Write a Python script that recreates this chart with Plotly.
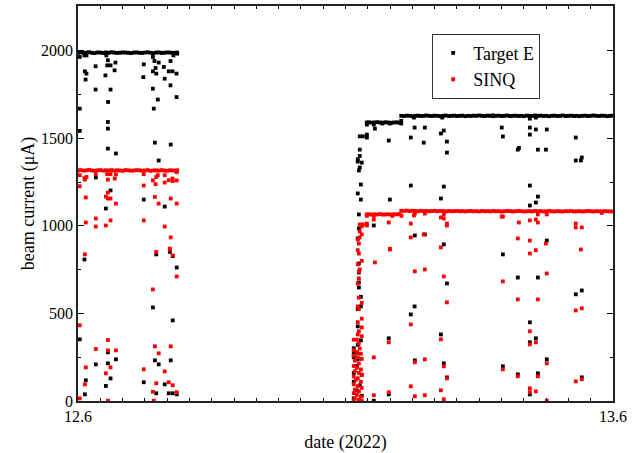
import plotly.graph_objects as go

# ---------------- data (hours after 12.6.2022 00:00, beam current in uA) ----------------
# steady-beam periods: shared time stamps
base1_t = [0.0, 0.125, 0.25, 0.375, 0.5, 0.625, 0.75, 0.875, 1.0, 1.125,
           1.25, 1.375, 1.5, 1.625, 1.75, 1.875, 2.0, 2.125, 2.25, 2.375,
           2.5, 2.625, 2.75, 2.875, 3.0, 3.125, 3.25, 3.375, 3.5, 3.625,
           3.75, 3.875, 4.0, 4.125, 4.25, 4.375, 4.45]
base2a_t = [12.95, 13.05, 13.175, 13.3, 13.425, 13.55, 13.675, 13.8, 13.925, 14.05,
            14.175, 14.3, 14.425]
base2b_t = [14.5, 14.625, 14.75, 14.875, 15.0, 15.125, 15.25, 15.375, 15.5, 15.625,
            15.75, 15.875, 16.0, 16.125, 16.25, 16.375, 16.5, 16.625, 16.75, 16.875,
            17.0, 17.125, 17.25, 17.375, 17.5, 17.625, 17.75, 17.875, 18.0, 18.125,
            18.25, 18.375, 18.5, 18.625, 18.75, 18.875, 19.0, 19.125, 19.25, 19.375,
            19.5, 19.625, 19.75, 19.875, 20.0, 20.125, 20.25, 20.375, 20.5, 20.625,
            20.75, 20.875, 21.0, 21.125, 21.25, 21.375, 21.5, 21.625, 21.75, 21.875,
            22.0, 22.125, 22.25, 22.375, 22.5, 22.625, 22.75, 22.875, 23.0, 23.125,
            23.25, 23.375, 23.5, 23.625, 23.75, 23.875, 24.0]

te_base1 = [1988, 1990, 1987, 1989, 1991, 1988, 1986, 1990, 1989, 1987,
            1990, 1988, 1991, 1989, 1987, 1988, 1990, 1989, 1988, 1986,
            1989, 1990, 1988, 1987, 1989, 1991, 1988, 1986, 1989, 1990,
            1987, 1988, 1990, 1989, 1987, 1988, 1989]
sinq_base1 = [1316, 1318, 1315, 1317, 1319, 1316, 1314, 1317, 1318, 1315,
              1317, 1316, 1318, 1315, 1317, 1316, 1314, 1318, 1317, 1315,
              1316, 1318, 1317, 1315, 1316, 1318, 1314, 1316, 1317, 1315,
              1318, 1316, 1314, 1317, 1316, 1315, 1317]
te_base2a = [1590, 1591, 1589, 1590, 1592, 1590, 1589, 1591, 1590, 1588, 1590, 1591, 1589]
sinq_base2a = [1065, 1066, 1064, 1066, 1065, 1067, 1064, 1065, 1066, 1064, 1066, 1065, 1067]
te_base2b = [1628, 1627, 1629, 1628, 1626, 1628, 1629, 1627, 1628, 1630,
             1628, 1627, 1629, 1628, 1626, 1628, 1630, 1627, 1628, 1629,
             1627, 1628, 1629, 1626, 1628, 1627, 1629, 1628, 1630, 1628,
             1627, 1629, 1628, 1626, 1628, 1629, 1627, 1628, 1630, 1627,
             1628, 1629, 1627, 1628, 1626, 1629, 1628, 1627, 1630, 1628,
             1629, 1627, 1628, 1626, 1628, 1629, 1627, 1628, 1630, 1627,
             1628, 1629, 1627, 1628, 1626, 1628, 1629, 1627, 1628, 1630,
             1628, 1627, 1629, 1628, 1626, 1628, 1629]
sinq_base2b = [1086, 1085, 1087, 1084, 1086, 1085, 1083, 1086, 1084, 1085,
               1083, 1084, 1086, 1083, 1085, 1084, 1082, 1085, 1083, 1084,
               1085, 1083, 1084, 1082, 1084, 1085, 1083, 1084, 1082, 1085,
               1083, 1084, 1082, 1085, 1083, 1084, 1082, 1083, 1085, 1084,
               1082, 1083, 1085, 1084, 1082, 1083, 1084, 1082, 1085, 1083,
               1084, 1082, 1083, 1085, 1083, 1082, 1084, 1083, 1082, 1084,
               1083, 1085, 1082, 1083, 1084, 1082, 1083, 1085, 1083, 1082,
               1084, 1083, 1082, 1084, 1083, 1082, 1083]

# beam trips / ramp-up readings (time h, current uA)
te_drops = [
    (0.08, 1964), (0.29, 1973), (0.38, 1973), (0.31, 1882), (0.38, 1869), (0.34, 1835),
    (0.79, 1911), (0.79, 1778), (1.27, 1973), (1.34, 1945), (1.31, 1916), (1.46, 1916),
    (1.68, 1932), (1.64, 1888), (1.23, 1859), (1.46, 1778), (1.35, 1707), (0.08, 1669),
    (2.95, 1922), (2.93, 1849), (3.36, 1964), (3.43, 1941), (3.62, 1932), (3.48, 1901),
    (3.36, 1882), (3.51, 1869), (3.85, 1907), (4.15, 1941), (4.07, 1882), (4.24, 1882),
    (4.42, 1869), (3.89, 1840), (4.15, 1802), (3.36, 1783), (3.58, 1721), (4.42, 1735),
    (3.40, 1669), (4.28, 1973), (4.45, 1983),
    (0.08, 1542), (1.34, 1593), (1.34, 1555), (1.34, 1441), (1.70, 1413), (3.45, 1475),
    (4.16, 1464), (3.62, 1373), (0.80, 1276), (1.46, 1202), (1.25, 1099), (2.95, 1150),
    (3.89, 1110),
    (0.29, 808), (0.08, 352), (0.80, 209), (1.34, 278), (1.34, 215), (1.70, 238),
    (1.46, 129), (1.25, 86), (0.35, 118), (0.31, 38), (2.95, 107), (3.36, 534),
    (3.51, 837), (4.12, 851), (4.25, 827), (4.43, 762), (4.25, 460), (3.45, 232),
    (3.62, 209), (4.16, 232), (3.89, 95), (3.51, 44), (4.07, 44), (4.25, 44), (4.43, 38),
    (12.96, 1578), (13.27, 1578), (13.65, 1584), (13.99, 1584), (14.50, 1584), (14.50, 1599),
    (15.07, 1618), (15.10, 1561), (15.56, 1561), (13.32, 1555), (12.64, 1511), (12.78, 1511),
    (12.96, 1521), (12.96, 1504), (13.94, 1487), (14.93, 1504), (15.51, 1475), (16.28, 1527),
    (16.41, 1544), (16.55, 1481), (16.55, 1418), (16.34, 1618), (12.64, 1435), (12.64, 1399),
    (12.55, 1380), (12.73, 1361), (12.55, 1367), (12.64, 1333), (12.60, 1316), (12.69, 1236),
    (12.55, 1185), (12.69, 1150), (14.93, 1230), (16.41, 1224), (13.99, 1150), (16.28, 1156),
    (12.60, 1065), (13.27, 1002), (12.60, 985), (12.55, 928), (15.11, 945), (15.56, 951),
    (16.41, 894),
    (12.60, 785), (12.60, 734), (12.60, 677), (12.60, 648), (12.69, 595), (12.69, 540),
    (12.55, 525), (12.55, 426), (12.69, 346), (12.55, 321), (12.37, 301), (12.37, 272),
    (12.51, 275), (12.55, 240), (12.37, 250), (12.51, 200), (12.37, 160), (12.73, 150),
    (12.37, 110), (12.64, 90), (12.51, 60), (12.73, 30), (12.37, 15), (12.60, 5),
    (16.55, 671), (15.10, 540), (14.93, 494), (13.94, 358), (16.28, 380), (15.11, 232),
    (16.41, 215), (16.55, 135), (13.94, 38), (13.27, 2),
    (18.61, 1631), (19.01, 1561), (19.06, 1510), (20.27, 1612), (20.27, 1561), (20.27, 1521),
    (20.54, 1618), (20.54, 1550), (21.03, 1550), (19.78, 1445), (19.73, 1435), (20.63, 1435),
    (20.99, 1435), (22.33, 1504), (22.60, 1390), (22.56, 1373), (22.33, 1373), (20.27, 1230),
    (20.63, 1167), (20.54, 1133), (20.27, 1116), (21.03, 916),
    (19.06, 837), (19.73, 705), (20.63, 705), (22.33, 609), (22.60, 631), (20.27, 449),
    (20.54, 358), (20.27, 335), (21.03, 238), (19.06, 198), (19.73, 152), (20.63, 158),
    (22.60, 135), (20.27, 38),
]

sinq_drops = [
    (0.08, 1289), (0.29, 1273), (0.38, 1279), (0.08, 1226), (0.31, 1264), (0.35, 1162),
    (0.80, 1295), (1.31, 1295), (1.46, 1295), (1.70, 1293), (1.34, 1264), (1.65, 1270),
    (1.34, 1190), (1.25, 1167), (1.34, 1156), (1.46, 1156), (1.70, 1127), (0.35, 1019),
    (0.80, 1042), (0.80, 996), (1.25, 1002), (1.46, 1031), (2.95, 1295), (2.95, 1230),
    (2.95, 1031), (3.36, 1260), (3.48, 1238), (3.51, 1279), (3.58, 1289), (3.45, 1165),
    (3.62, 1127), (3.89, 1247), (3.89, 1289), (4.07, 1260), (4.24, 1270), (4.25, 1256),
    (4.43, 1306), (4.43, 1259), (4.16, 1156), (4.43, 1127), (3.89, 996), (4.16, 934),
    (4.12, 865),
    (0.31, 837), (0.08, 432), (0.80, 297), (1.34, 348), (1.34, 289), (1.70, 289),
    (0.35, 192), (1.46, 192), (1.25, 158), (0.31, 95), (0.08, 15), (1.34, 2),
    (2.95, 181), (3.36, 637), (3.51, 851), (4.12, 870), (4.25, 831), (4.43, 711),
    (3.45, 312), (4.16, 312), (3.62, 272), (3.89, 169), (3.51, 101), (4.07, 107),
    (4.25, 90), (3.36, 53), (4.43, 50), (3.40, 2),
    (12.96, 1057), (13.27, 1057), (14.10, 1057), (14.51, 1057), (12.64, 1008), (12.78, 1008),
    (12.96, 1013), (12.96, 1002), (12.73, 996), (12.73, 951), (12.64, 968), (13.27, 1036),
    (13.94, 1019), (14.93, 1013), (15.07, 1059), (15.11, 1070), (15.56, 1070), (16.28, 1048),
    (16.41, 1042), (16.41, 1065), (16.55, 1013), (16.55, 1002), (14.93, 934), (15.51, 951),
    (12.64, 934), (12.55, 922), (12.60, 899), (13.99, 869), (16.28, 877),
    (13.99, 865), (13.32, 791), (15.11, 740), (15.56, 751), (16.41, 711), (16.55, 563),
    (14.93, 437), (16.28, 352), (13.94, 335), (13.27, 249), (15.56, 238), (15.11, 221),
    (16.41, 198), (16.55, 129), (14.93, 84), (16.28, 61), (13.94, 50), (13.27, 33),
    (15.11, 27), (15.56, 33), (16.41, 10),
    (12.55, 861), (12.60, 842), (12.73, 800), (12.55, 780), (12.64, 751), (12.60, 740),
    (12.60, 700), (12.55, 671), (12.60, 590), (12.73, 560), (12.55, 540), (12.60, 525),
    (12.73, 470), (12.55, 450), (12.73, 420), (12.60, 398), (12.55, 380), (12.73, 370),
    (12.37, 350), (12.51, 350), (12.60, 330), (12.64, 300), (12.37, 290), (12.51, 280),
    (12.69, 270), (12.37, 260), (12.55, 250), (12.73, 240), (12.42, 230), (12.60, 215),
    (12.37, 200), (12.51, 190), (12.69, 180), (12.42, 170), (12.60, 160), (12.73, 150),
    (12.37, 140), (12.55, 130), (12.46, 120), (12.69, 110), (12.37, 95), (12.55, 85),
    (12.73, 75), (12.42, 65), (12.60, 55), (12.37, 45), (12.51, 35), (12.69, 25),
    (12.42, 15), (12.60, 8), (12.37, 3), (12.73, 2),
    (19.01, 1053), (19.06, 1053), (19.78, 1019), (20.27, 1031), (20.54, 1036), (20.63, 1019),
    (20.63, 1065), (21.03, 1065), (19.73, 928), (20.27, 916), (20.99, 899), (22.33, 1013),
    (22.33, 991), (22.60, 991), (22.56, 865), (20.54, 861), (23.50, 1074),
    (20.27, 842), (19.06, 683), (21.03, 728), (19.73, 580), (20.63, 580), (22.33, 517),
    (22.60, 529), (20.27, 398), (20.27, 323), (20.54, 335), (21.03, 215), (19.06, 181),
    (19.73, 141), (20.63, 141), (22.33, 112), (22.60, 124), (20.27, 72), (20.27, 50),
    (20.54, 55), (21.03, 2),
]

x_tick_vals = [0, 24]
x_tick_text = ["12.6", "13.6"]
y_tick_vals = [0, 500, 1000, 1500, 2000]

# ---------------- assemble series ----------------
te_t = base1_t + base2a_t + base2b_t + [p[0] for p in te_drops]
te_v = te_base1 + te_base2a + te_base2b + [p[1] for p in te_drops]
sinq_t = base1_t + base2a_t + base2b_t + [p[0] for p in sinq_drops]
sinq_v = sinq_base1 + sinq_base2a + sinq_base2b + [p[1] for p in sinq_drops]

fig = go.Figure()
fig.add_trace(go.Scatter(x=te_t, y=te_v, mode="markers", name="Target E",
                         marker=dict(symbol="square", size=3.8, color="#000000", line=dict(width=0))))
fig.add_trace(go.Scatter(x=sinq_t, y=sinq_v, mode="markers", name="SINQ",
                         marker=dict(symbol="square", size=3.8, color="#ff0000", line=dict(width=0))))

font_family = "Liberation Serif"
fig.update_layout(
    width=638, height=453,
    margin=dict(l=78, r=25, t=6, b=52),
    paper_bgcolor="white", plot_bgcolor="white",
    font=dict(family=font_family, size=16, color="black"),
    legend=dict(x=0.662, y=0.93, xanchor="left", yanchor="top",
                bordercolor="#333333", borderwidth=1, bgcolor="white",
                font=dict(family=font_family, size=18), tracegroupgap=0, itemwidth=30),
)
fig.update_xaxes(
    range=[0, 24], tickvals=x_tick_vals, ticktext=x_tick_text,
    tickfont=dict(family=font_family, size=16),
    ticks="inside", ticklen=6, tickcolor="black", tickwidth=1,
    showline=True, linecolor="#222222", linewidth=1.5, mirror="allticks",
    showgrid=False, zeroline=False, automargin=False,
    minor=dict(dtick=1, ticks="inside", ticklen=3, tickcolor="black", showgrid=False),
    title=dict(text="date (2022)", font=dict(family=font_family, size=18), standoff=12),
)
fig.update_yaxes(
    range=[0, 2255], tickvals=y_tick_vals,
    tickfont=dict(family=font_family, size=16),
    ticks="inside", ticklen=6, tickcolor="black", tickwidth=1,
    showline=True, linecolor="#222222", linewidth=1.5, mirror="allticks",
    showgrid=False, zeroline=False, automargin=False,
    minor=dict(tickvals=[250, 750, 1250, 1750, 2250], ticks="inside", ticklen=3,
               tickcolor="black", showgrid=False),
    title=dict(text="beam current (μA)", font=dict(family=font_family, size=18), standoff=2),
)

fig.write_html("out.html")
